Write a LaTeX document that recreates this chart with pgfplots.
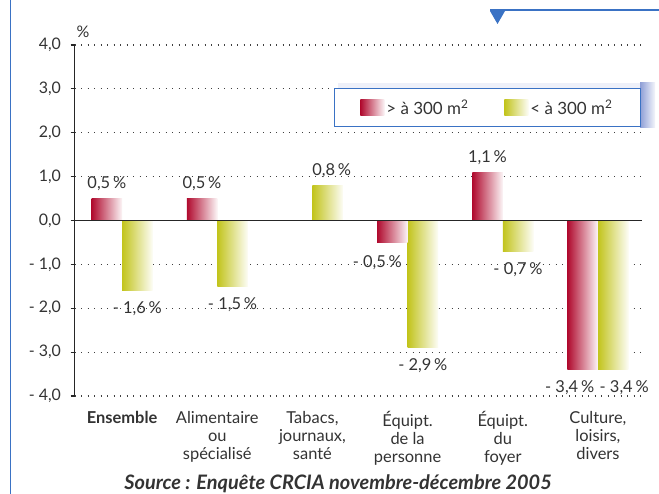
\documentclass[border=0pt]{standalone}
\usepackage{pgfplots}
\pgfplotsset{compat=1.18}
\usepackage{pgfplotstable}
\usepackage{fontspec}
\setmainfont{Lato}
\definecolor{txt}{HTML}{333333}
\definecolor{redbar}{HTML}{B00A2E}
\definecolor{greenbar}{HTML}{C2C41C}
\definecolor{blueline}{HTML}{3A72C4}
\definecolor{shadowblue}{HTML}{8E9ED6}
\newcommand\ms{-\ }
\pgfplotstableread{
x y lab dx ys
0 0.5 0,5 0 15
1 0.5 0,5 0 15
3 -0.5 \ms0,5 -15 -20
4 1.1 1,1 0 15
5 -3.4 \ms3,4 -13 -18
}\redtab
\pgfplotstableread{
x y lab dx ys
0 -1.6 \ms1,6 0 -18
1 -1.5 \ms1,5 0 -18
2 0.8 0,8 4 15
3 -2.9 \ms2,9 0 -18
4 -0.7 \ms0,7 0 -18
5 -3.4 \ms3,4 11 -18
}\greentab
\begin{document}
\begin{tikzpicture}[x=1bp,y=1bp]
\useasboundingbox (0,0) rectangle (659,494);
\fill[white] (0,0) rectangle (659,494);
% decorations
\draw[blueline, line width=1.6bp] (10.5,0) -- (10.5,494);
\draw[blueline, line width=1.6bp] (490,484) -- (659,484);
\fill[blueline] (490,483) -- (505,483) -- (497.5,470) -- cycle;
% legend shadow
\fill[shadowblue!15] (338,406) rectangle (652,411);
\shade[left color=shadowblue, right color=shadowblue!10] (640,366) rectangle (655,411);
\begin{axis}[
  at={(74.5bp,98bp)}, anchor=south west,
  scale only axis, width=571bp, height=351bp,
  xmin=-0.5, xmax=5.5, ymin=-4, ymax=4,
  ybar, bar width=30.5bp,
  axis y line=left, axis x line=bottom,
  y axis line style={-, line width=1.2bp, black!85},
  x axis line style={draw=none},
  tick align=outside, major tick length=4bp,
  ytick={-4,...,4},
  yticklabels={{- 4,0},{- 3,0},{- 2,0},{- 1,0},{0,0},{1,0},{2,0},{3,0},{4,0}},
  ytick style={line width=1.2bp, black!85},
  xtick={0,...,5},
  xtick style={draw=none},
  xticklabels={{\textbf{Ensemble}},{Alimentaire\\ou\\spécialisé},{Tabacs,\\journaux,\\santé},{Équipt.\\de la\\personne},{Équipt.\\du\\foyer},{Culture,\\loisirs,\\divers}},
  xticklabel style={align=center, font=\fontsize{16.5}{18}\selectfont, text=txt, yshift=-8bp},
  yticklabel style={font=\fontsize{16}{18}\selectfont, text=txt, xshift=-6bp},
  ymajorgrids,
  grid style={dash pattern=on 1.3bp off 5.2bp, line width=1.1bp, black!75},
  point meta=explicit symbolic,
  nodes near coords={\pgfplotspointmeta\,\%},
  visualization depends on={\thisrow{dx} \as \dx},
  visualization depends on={\thisrow{ys} \as \ys},
  every node near coord/.append style={font=\fontsize{16.5}{18}\selectfont, text=txt, anchor=center, xshift=\dx bp, yshift=\ys bp},
  legend columns=2,
  legend style={at={(0.992,0.8775)}, anchor=north east, draw=blueline, line width=1bp,
    fill=white, inner xsep=26bp, inner ysep=9bp,
    font=\fontsize{17}{18}\selectfont, text=txt,
    /tikz/every even column/.append style={column sep=34bp}},
  legend image code/.code={\path[#1, draw=none] (0bp,-8bp) rectangle (24bp,8bp);},
]
\addlegendimage{left color=redbar, right color=redbar!4}
\addlegendentry{> à 300 m\textsuperscript{2}}
\addlegendimage{left color=greenbar, right color=greenbar!4}
\addlegendentry{< à 300 m\textsuperscript{2}}
\pgfplotsinvokeforeach{0,...,5}{
\addplot[forget plot, draw=none, bar shift=15.25bp, left color=greenbar, right color=greenbar!4,
  restrict x to domain=#1:#1] table[x=x, y=y, meta=lab] {\greentab};
}
\pgfplotsinvokeforeach{0,1,3,4,5}{
\addplot[forget plot, draw=none, bar shift=-15.25bp, left color=redbar, right color=redbar!4,
  restrict x to domain=#1:#1] table[x=x, y=y, meta=lab] {\redtab};
}
\draw[black!85, line width=1.2bp] (axis cs:-0.5,0) -- (axis cs:5.46,0);
\end{axis}
\node[text=txt, font=\fontsize{16}{18}\selectfont] at (83,462) {\%};
\node[text=txt, font=\fontsize{20}{22}\selectfont\bfseries\itshape, anchor=base] at (338,4.5) {Source : Enquête CRCIA novembre-décembre 2005};
\end{tikzpicture}
\end{document}
